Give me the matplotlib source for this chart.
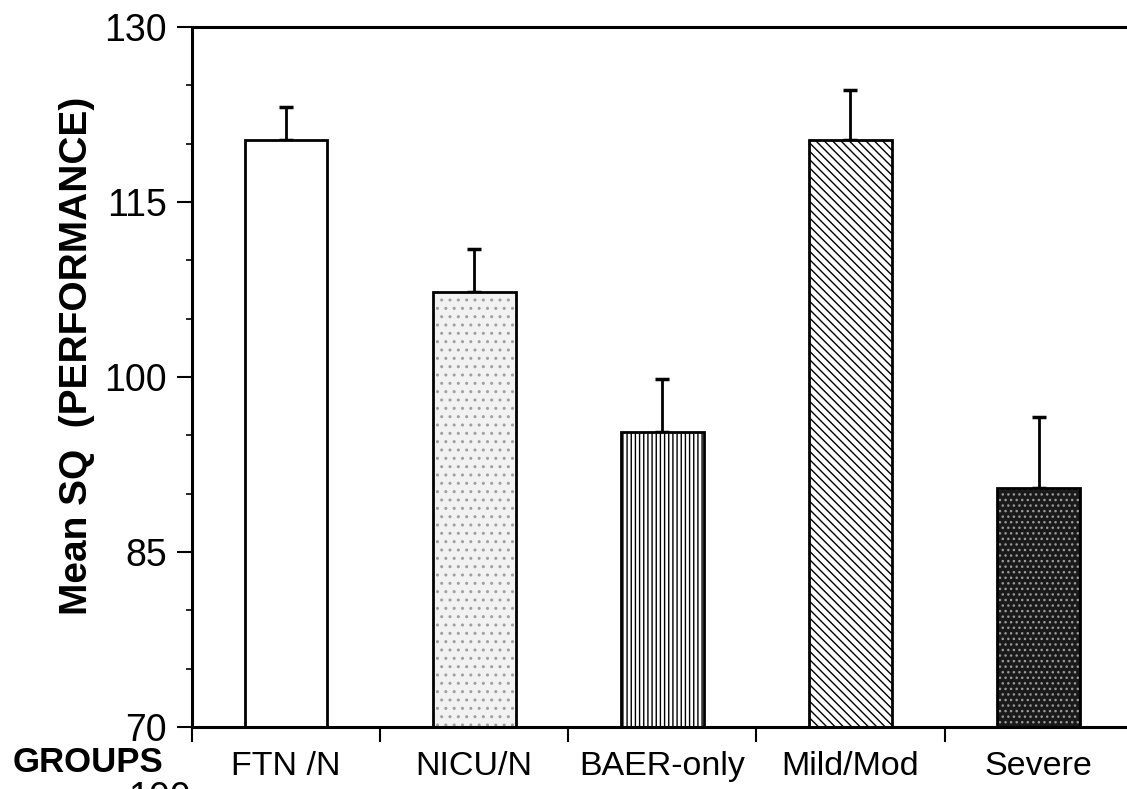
import matplotlib
matplotlib.use('Agg')
import matplotlib.pyplot as plt
import numpy as np

groups = ['FTN /N', 'NICU/N', 'BAER-only', 'Mild/Mod', 'Severe']
mean_sq = [120.3, 107.3, 95.3, 120.3, 90.5]
upper_err = [2.8, 3.7, 4.5, 4.3, 6.1]
y_ticks = [70, 85, 100, 115, 130]

face_colors = ['white', '#f2f2f2', 'white', 'white', '#1a1a1a']
hatches = [None, '..', '||||', '\\\\\\\\', '...']
hatch_colors = ['black', '#a0a0a0', 'black', 'black', '#9a9a9a']

plt.rcParams['font.family'] = ['Liberation Sans', 'DejaVu Sans']
plt.rcParams['hatch.linewidth'] = 1.0

fig = plt.figure(figsize=(11.27, 7.89), dpi=100)
ax = fig.add_axes([0.1704, 0.0786, 0.8296, 0.8872])

x = np.arange(len(groups))
width = 0.44

# fill + hatch first, then the black outline on top
for i in range(len(groups)):
    ax.bar(x[i], mean_sq[i] - 70, bottom=70, width=width, color=face_colors[i],
           hatch=hatches[i], edgecolor=hatch_colors[i], linewidth=0, zorder=2)
ax.bar(x, [m - 70 for m in mean_sq], bottom=70, width=width, fill=False,
       edgecolor='black', linewidth=2.0, zorder=3)

ax.errorbar(x, mean_sq, yerr=[[0] * len(groups), upper_err], fmt='none',
            ecolor='black', elinewidth=2.0, capsize=4.8, capthick=2.5, zorder=1)

ax.set_ylim(70, 130)
ax.set_xlim(-0.5, 4.47)
ax.set_yticks(y_ticks)
ax.set_yticks(np.arange(70, 131, 5), minor=True)
ax.tick_params(axis='y', which='major', length=11, width=1.5, labelsize=27, pad=7)
ax.tick_params(axis='y', which='minor', length=4.5, width=1.2)

ax.set_xticks(np.arange(-0.5, 4.0, 1.0))
ax.set_xticklabels([])
ax.set_xticks(x, minor=True)
ax.set_xticklabels(groups, minor=True)
ax.tick_params(axis='x', which='major', direction='out', length=11, width=1.5)
ax.tick_params(axis='x', which='minor', length=0, labelsize=24.5, pad=17)

for s in ['left', 'bottom', 'top']:
    ax.spines[s].set_linewidth(2.2)
ax.spines['right'].set_visible(False)

ax.set_ylabel('Mean SQ  (PERFORMANCE)', fontsize=28, fontweight='bold',
              labelpad=7, y=0.53)

fig.text(13 / 1127, 1 - 763 / 789, 'GROUPS', fontsize=25, fontweight='bold',
         ha='left', va='center')
fig.text(128 / 1127, 1 - 781 / 789, '100', fontsize=27, ha='left', va='top')

fig.savefig('out.png', dpi=100)
